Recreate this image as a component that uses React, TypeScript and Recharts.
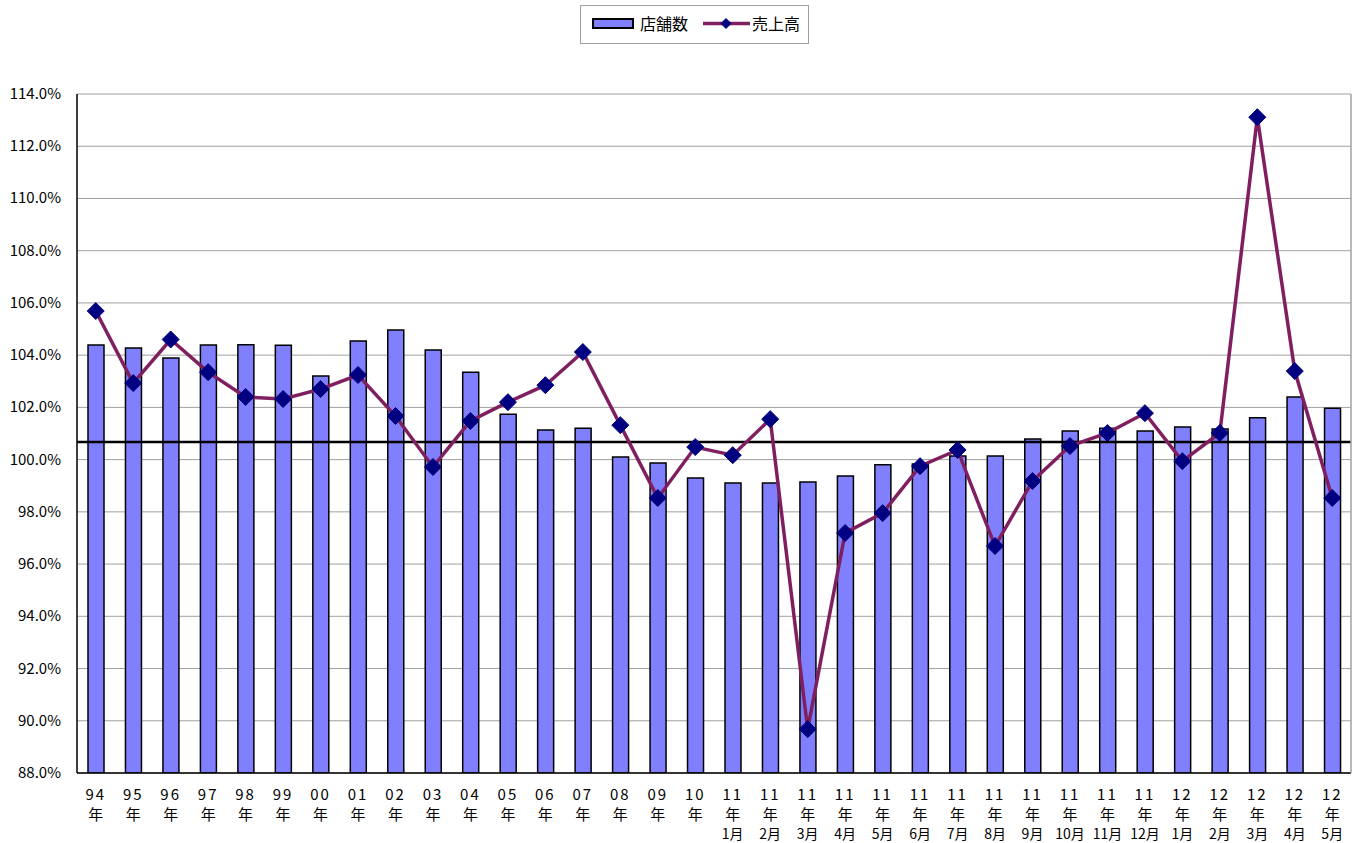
import React from "react";
import {
  ComposedChart,
  Bar,
  Line,
  XAxis,
  YAxis,
  CartesianGrid,
  ReferenceLine,
  Legend,
} from "recharts";

const FONT = '"Noto Sans CJK JP", "Noto Sans", sans-serif';

const yearLabels = [
  "94", "95", "96", "97", "98", "99", "00", "01", "02", "03", "04", "05",
  "06", "07", "08", "09", "10", "11", "11", "11", "11", "11", "11", "11",
  "11", "11", "11", "11", "11", "12", "12", "12", "12", "12",
];
const monthLabels = [
  "", "", "", "", "", "", "", "", "", "", "", "", "", "", "", "", "",
  "1月", "2月", "3月", "4月", "5月", "6月", "7月", "8月", "9月", "10月",
  "11月", "12月", "1月", "2月", "3月", "4月", "5月",
];
const storeCounts = [
  104.39, 104.27, 103.89, 104.39, 104.4, 104.38, 103.2, 104.54, 104.96,
  104.2, 103.35, 101.74, 101.13, 101.2, 100.1, 99.87, 99.3, 99.1, 99.1,
  99.14, 99.37, 99.8, 99.83, 100.14, 100.14, 100.79, 101.1, 101.2, 101.1,
  101.25, 101.17, 101.6, 102.4, 101.97,
];
const sales = [
  105.69, 102.93, 104.6, 103.35, 102.4, 102.32, 102.7, 103.24, 101.67,
  99.72, 101.48, 102.2, 102.85, 104.12, 101.32, 98.53, 100.48, 100.17,
  101.55, 89.68, 97.19, 97.95, 99.75, 100.37, 96.69, 99.18, 100.52, 101.02,
  101.78, 99.94, 101.02, 113.11, 103.39, 98.53,
];
const yTicks = [88, 90, 92, 94, 96, 98, 100, 102, 104, 106, 108, 110, 112, 114];
const baseline = 100.67;

const data = yearLabels.map((y, i) => ({
  key: `${y}年${monthLabels[i]}`,
  stores: storeCounts[i],
  sales: sales[i],
}));

const BAR_FILL = "#8080FF";
const LINE_COLOR = "#7F1F5F";
const MARKER = "#000080";

const Diamond = (props: any) => {
  const { cx, cy, size = 8.5 } = props;
  if (cx == null || cy == null) return null;
  return (
    <polygon
      points={`${cx},${cy - size} ${cx + size},${cy} ${cx},${cy + size} ${cx - size},${cy}`}
      fill={MARKER}
      stroke={MARKER}
      strokeWidth={1}
    />
  );
};

const XTick = (props: any) => {
  const { x, y, payload } = props;
  const i = payload.index;
  return (
    <g fontFamily={FONT} fontSize={15} fill="#000">
      <text x={x} y={y + 25} textAnchor="middle" letterSpacing={2}>
        {yearLabels[i]}
      </text>
      <text x={x} y={y + 45} textAnchor="middle">
        年
      </text>
      {monthLabels[i] && (
        <text x={x} y={y + 64} textAnchor="middle" fontSize={14}>
          {monthLabels[i]}
        </text>
      )}
    </g>
  );
};

const YTick = (props: any) => {
  const { x, y, payload } = props;
  return (
    <text x={x - 14} y={y} dy={5} textAnchor="end" fontFamily={FONT} fontSize={15} fill="#000">
      {payload.value.toFixed(1)}%
    </text>
  );
};

const LegendBox = () => (
  <svg width={229} height={39} style={{ display: "block" }}>
    <rect x={0.5} y={0.5} width={228} height={38} fill="#fff" stroke="#A0A0A0" />
    <rect x={13} y={14} width={40} height={9} fill={BAR_FILL} stroke="#000" strokeWidth={2} />
    <text x={60} y={25} fontFamily={FONT} fontSize={16} fill="#000">
      店舗数
    </text>
    <line x1={123} y1={18.5} x2={170} y2={18.5} stroke={LINE_COLOR} strokeWidth={3.5} />
    <Diamond cx={146} cy={18.5} size={5} />
    <text x={172} y={25} fontFamily={FONT} fontSize={16} fill="#000">
      売上高
    </text>
  </svg>
);

export default function App() {
  return (
    <div style={{ position: "absolute", left: 0, top: 0, background: "#fff" }}>
      <ComposedChart
        width={1353}
        height={843}
        data={data}
        margin={{ top: 55, right: 1, left: 0, bottom: 0 }}
        barCategoryGap={0}
      >
        <CartesianGrid stroke="#A0A0A0" strokeWidth={1} vertical={false} />
        <XAxis
          dataKey="key"
          interval={0}
          height={70}
          tick={<XTick />}
          tickLine={false}
          tickSize={0}
          axisLine={{ stroke: "#000", strokeWidth: 1.5 }}
        />
        <YAxis
          domain={[88, 114]}
          ticks={yTicks}
          width={77}
          tick={<YTick />}
          tickLine={false}
          tickSize={0}
          interval={0}
          allowDataOverflow
          axisLine={{ stroke: "#000", strokeWidth: 1.5 }}
        />
        <YAxis
          yAxisId="right"
          orientation="right"
          domain={[88, 114]}
          width={1}
          tick={false}
          tickLine={false}
          axisLine={{ stroke: "#A0A0A0", strokeWidth: 1.5 }}
        />
        <Legend
          verticalAlign="top"
          content={<LegendBox />}
          wrapperStyle={{ top: 5, left: 580, width: 229, height: 39 }}
        />
        <Bar
          dataKey="stores"
          name="店舗数"
          barSize={16}
          fill={BAR_FILL}
          stroke="#000"
          strokeWidth={1.5}
          isAnimationActive={false}
        />
        <ReferenceLine y={baseline} stroke="#000" strokeWidth={2.5} />
        <Line
          dataKey="sales"
          name="売上高"
          type="linear"
          stroke={LINE_COLOR}
          strokeWidth={3.5}
          dot={(p: any) => <Diamond key={p.index} cx={p.cx} cy={p.cy} />}
          activeDot={false}
          isAnimationActive={false}
        />
      </ComposedChart>
    </div>
  );
}
